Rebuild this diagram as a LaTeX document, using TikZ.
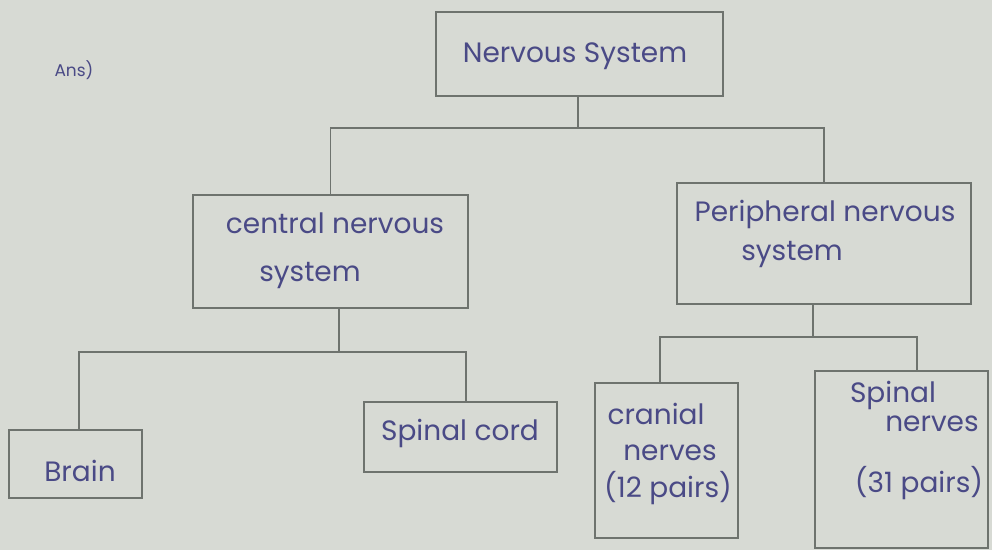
\documentclass[tikz,border=0pt]{standalone}
\usepackage{fontspec}
\setmainfont{Poppins}
\definecolor{paper}{HTML}{D7DAD4}
\definecolor{pencil}{HTML}{6E736E}
\definecolor{ink}{HTML}{4A4A86}
\begin{document}
\begin{tikzpicture}[x=1pt,y=-1pt,
  box/.style={draw=pencil, line width=1.4pt, inner sep=0pt},
  txt/.style={text=ink, anchor=mid, inner sep=0pt, font=\fontsize{28}{32}\selectfont},
  wire/.style={draw=pencil, line width=1.4pt}]
\fill[paper] (0,0) rectangle (992,550);
\useasboundingbox (0,0) rectangle (992,550);

\node[txt, font=\fontsize{17}{20}\selectfont] (ans) at (74,74) {Ans)};

% boxes
\node[box, minimum width=287pt, minimum height=84pt] (ns) at (579.5,54) {};
\node[box, minimum width=275pt, minimum height=113pt] (cns) at (330.5,251.5) {};
\node[box, minimum width=294pt, minimum height=121pt] (pns) at (824,243.5) {};
\node[box, minimum width=133pt, minimum height=68pt] (brain) at (75.5,464) {};
\node[box, minimum width=193pt, minimum height=70pt] (cord) at (460.5,437) {};
\node[box, minimum width=143pt, minimum height=155pt] (cran) at (666.5,460.5) {};
\node[box, minimum width=173pt, minimum height=177pt] (spn) at (901.5,459.5) {};

% texts
\node[txt] (nst) at (575,60) {Nervous System};
\node[txt] (cnst1) at (335,231) {central nervous};
\node[txt] (cnst2) at (310,279) {system};
\node[txt] (pnst1) at (825,219) {Peripheral nervous};
\node[txt] (pnst2) at (792,258) {system};
\node[txt] (braint) at (80,479) {Brain};
\node[txt] (cordt) at (460,438) {Spinal cord};
\node[txt] (crant1) at (656,422) {cranial};
\node[txt] (crant2) at (670,458) {nerves};
\node[txt] (crant3) at (668,495) {(12 pairs)};
\node[txt] (spnt1) at (893,400) {Spinal};
\node[txt] (spnt2) at (932,429) {nerves};
\node[txt] (spnt3) at (919,490) {(31 pairs)};

% junctions
\coordinate (j1) at (578,128);
\coordinate (j2) at (339,352);
\coordinate (j2l) at (79,352);
\coordinate (j2r) at (466,352);
\coordinate (j3) at (813,337);
\coordinate (j3l) at (660,337);
\coordinate (j3r) at (917,337);

% connectors
\draw[wire] (ns.south -| j1) -- (j1);
\draw[wire] (cns.north) -- (cns.north |- j1) -- (pns.north |- j1) -- (pns.north);
\draw[wire] (cns.south -| j2) -- (j2);
\draw[wire] (j2l |- brain.north) -- (j2l) -- (j2r) -- (j2r |- cord.north);
\draw[wire] (pns.south -| j3) -- (j3);
\draw[wire] (j3l |- cran.north) -- (j3l) -- (j3r) -- (j3r |- spn.north);
\end{tikzpicture}
\end{document}
